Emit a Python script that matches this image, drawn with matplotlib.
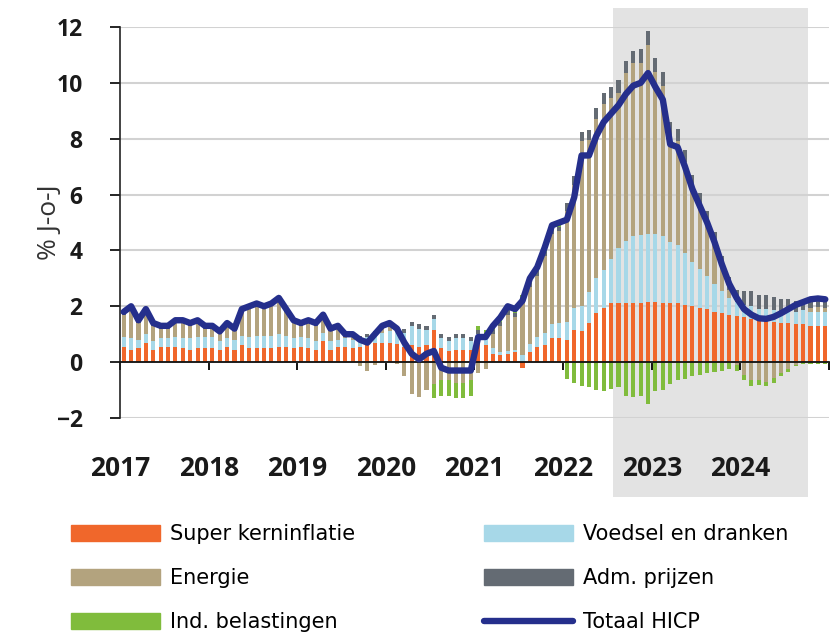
import numpy as np
import matplotlib
matplotlib.use("Agg")
import matplotlib.pyplot as plt
from matplotlib.patches import Patch
from matplotlib.lines import Line2D

# maandelijkse bijdragen (procentpunten), jan 2017 - dec 2024
super_kern = [0.55, 0.45, 0.5, 0.7, 0.45, 0.55, 0.55, 0.55, 0.5, 0.45, 0.5, 0.5,
              0.5, 0.45, 0.55, 0.45, 0.6, 0.5, 0.5, 0.5, 0.5, 0.55, 0.55, 0.5,
              0.55, 0.5, 0.45, 0.75, 0.45, 0.55, 0.55, 0.5, 0.55, 0.6, 0.7, 0.7,
              0.7, 0.65, 0.55, 0.6, 0.55, 0.6, 1.15, 0.5, 0.4, 0.45, 0.45, 0.45,
              0.75, 0.6, 0.3, 0.25, 0.3, 0.35, -0.2, 0.35, 0.55, 0.6, 0.85, 0.85,
              0.8, 1.15, 1.1, 1.4, 1.75, 1.95, 2.1, 2.1, 2.1, 2.1, 2.1, 2.15,
              2.15, 2.1, 2.1, 2.1, 2.05, 2.0, 1.95, 1.9, 1.8, 1.75, 1.7, 1.65,
              1.6, 1.55, 1.5, 1.5, 1.45, 1.4, 1.4, 1.35, 1.35, 1.3, 1.3, 1.3]
voedsel = [0.35, 0.4, 0.3, 0.3, 0.3, 0.3, 0.3, 0.35, 0.35, 0.4, 0.4, 0.4,
           0.4, 0.3, 0.3, 0.35, 0.35, 0.4, 0.45, 0.45, 0.45, 0.45, 0.4, 0.35,
           0.35, 0.35, 0.3, 0.3, 0.3, 0.25, 0.3, 0.3, 0.3, 0.3, 0.3, 0.35,
           0.4, 0.45, 0.5, 0.7, 0.65, 0.55, 0.4, 0.35, 0.35, 0.4, 0.4, 0.3,
           0.25, 0.25, 0.2, 0.1, 0.1, 0.1, 0.25, 0.3, 0.35, 0.45, 0.5, 0.55,
           0.65, 0.8, 0.9, 1.1, 1.25, 1.35, 1.6, 2.0, 2.25, 2.4, 2.45, 2.45,
           2.45, 2.4, 2.2, 2.1, 1.85, 1.6, 1.4, 1.2, 1.0, 0.8, 0.6, 0.5,
           0.45, 0.45, 0.4, 0.4, 0.4, 0.4, 0.45, 0.45, 0.5, 0.5, 0.5, 0.5]
energie = [0.8, 1.05, 0.6, 0.8, 0.55, 0.35, 0.35, 0.5, 0.55, 0.45, 0.5, 0.3,
           0.3, 0.25, 0.45, 0.3, 0.85, 1.0, 1.05, 0.95, 1.05, 1.2, 0.85, 0.55,
           0.4, 0.55, 0.55, 0.55, 0.35, 0.4, 0.05, 0.1, -0.15, -0.3, -0.1, 0.15,
           0.15, -0.05, -0.5, -1.15, -1.25, -1.0, -0.8, -0.65, -0.65, -0.75, -0.75, -0.65,
           -0.4, -0.25, 0.5, 0.95, 1.3, 1.15, 1.85, 2.05, 2.2, 2.75, 3.25, 3.3,
           3.95, 4.4, 5.9, 5.45, 5.7, 5.95, 5.75, 5.55, 6.0, 6.2, 6.15, 6.75,
           5.8, 5.4, 3.85, 3.7, 3.25, 2.65, 2.25, 1.9, 1.45, 0.85, 0.3, -0.1,
           -0.45, -0.65, -0.63, -0.7, -0.58, -0.4, -0.25, -0.1, 0.0, 0.15, 0.18, 0.15]
adm = [0.1] * 36 + [0.15] * 24 + \
      [0.3, 0.3, 0.35, 0.35, 0.4, 0.4, 0.4, 0.45, 0.45, 0.45, 0.5, 0.5,
       0.5, 0.5, 0.45, 0.45, 0.45, 0.45, 0.45, 0.4, 0.4, 0.4, 0.45, 0.45,
       0.5, 0.55, 0.5, 0.5, 0.5, 0.45, 0.4, 0.4, 0.35, 0.35, 0.35, 0.35]
ind_bel = [0.0] * 42 + [-0.5, -0.55, -0.55, -0.55, -0.55, -0.55] + [0.15] * 12 + \
          [-0.6, -0.75, -0.85, -0.9, -1.0, -1.05, -0.95, -0.9, -1.2, -1.25, -1.2, -1.5,
           -1.05, -1.0, -0.8, -0.65, -0.6, -0.5, -0.45, -0.4, -0.35, -0.3, -0.25, -0.2,
           -0.2, -0.2, -0.2, -0.15, -0.15, -0.1, -0.1, -0.05, -0.05, -0.05, -0.05, -0.05]
totaal = [1.8, 2.0, 1.5, 1.9, 1.4, 1.3, 1.3, 1.5, 1.5, 1.4, 1.5, 1.3,
          1.3, 1.1, 1.4, 1.2, 1.9, 2.0, 2.1, 2.0, 2.1, 2.3, 1.9, 1.5,
          1.4, 1.5, 1.4, 1.7, 1.2, 1.3, 1.0, 1.0, 0.8, 0.7, 1.0, 1.3,
          1.4, 1.2, 0.7, 0.3, 0.1, 0.3, 0.4, -0.2, -0.3, -0.3, -0.3, -0.3,
          0.9, 0.9, 1.3, 1.6, 2.0, 1.9, 2.2, 3.0, 3.4, 4.1, 4.9, 5.0,
          5.1, 5.9, 7.4, 7.4, 8.1, 8.6, 8.9, 9.2, 9.6, 9.9, 10.0, 10.35,
          9.85, 9.4, 7.8, 7.7, 7.0, 6.2, 5.6, 5.0, 4.3, 3.5, 2.8, 2.3,
          1.9, 1.7, 1.57, 1.55, 1.62, 1.75, 1.9, 2.05, 2.15, 2.25, 2.28, 2.25]
jaren = ['2017', '2018', '2019', '2020', '2021', '2022', '2023', '2024']

# projectieperiode (in maanden vanaf jan 2017)
proj_start, proj_end = 66.25, 92.65

reeksen = [('Super kerninflatie', super_kern, '#F0672B'),
           ('Voedsel en dranken', voedsel, '#A7D8E8'),
           ('Energie', energie, '#B3A37E'),
           ('Adm. prijzen', adm, '#646B73'),
           ('Ind. belastingen', ind_bel, '#80BC3C')]
lijn_kleur = '#252F8C'

fig = plt.figure(figsize=(8.37, 6.32), dpi=100)
ax = fig.add_axes([0.1434, 0.3386, 0.847, 0.6187])

x = np.arange(len(totaal))
pos = np.zeros(len(x))
neg = np.zeros(len(x))
for naam, vals, kleur in reeksen:
    v = np.array(vals)
    onder = np.where(v >= 0, pos, neg)
    ax.bar(x, v, width=0.55, bottom=onder, color=kleur, linewidth=0, zorder=2)
    pos = pos + np.clip(v, 0, None)
    neg = neg + np.clip(v, None, 0)

ax.plot(x, totaal, color=lijn_kleur, lw=4.6, solid_capstyle='round',
        solid_joinstyle='round', zorder=5)

sh = ax.axvspan(proj_start, proj_end, ymin=-0.202, ymax=1.049,
                color='#E3E3E3', lw=0, zorder=0)
sh.set_clip_on(False)

ax.set_xlim(-0.5, 95.5)
ax.set_ylim(-2, 12)
ax.set_yticks(range(-2, 13, 2))
ax.yaxis.grid(True, color='#D2D2D2', lw=1.5)
ax.set_axisbelow(True)

ax.set_xticks(np.arange(-0.5, 96, 12))
ax.set_xticklabels(jaren + [''])
ax.spines['bottom'].set_position(('data', 0))
ax.spines['top'].set_visible(False)
ax.spines['right'].set_visible(False)
ax.spines['left'].set_color('#222222')
ax.spines['bottom'].set_color('#111111')
ax.spines['left'].set_linewidth(1.2)
ax.spines['bottom'].set_linewidth(1.3)
ax.spines['bottom'].set_zorder(3)

ax.tick_params(axis='x', direction='out', length=6, width=1.3, pad=61,
               labelsize=19, labelcolor='#1a1a1a')
ax.tick_params(axis='y', direction='out', length=7, width=1.2, pad=20,
               labelsize=16.5, labelcolor='#1a1a1a')
for t in ax.get_xticklabels() + ax.get_yticklabels():
    t.set_fontfamily(['Open Sans', 'DejaVu Sans'])
    t.set_fontweight('bold')

ax.set_ylabel('% J-o-J', fontsize=19, color='#333333',
              fontfamily=['Open Sans', 'DejaVu Sans'], labelpad=-4)

handles = [Patch(color=reeksen[0][2]), Patch(color=reeksen[2][2]), Patch(color=reeksen[4][2]),
           Patch(color=reeksen[1][2]), Patch(color=reeksen[3][2]),
           Line2D([], [], color=lijn_kleur, lw=4.6, solid_capstyle='round')]
labels = [reeksen[0][0], reeksen[2][0], reeksen[4][0],
          reeksen[1][0], reeksen[3][0], 'Totaal HICP']
fig.legend(handles, labels, ncol=2, loc='upper left', bbox_to_anchor=(0.062, 0.2),
           frameon=False, handlelength=4.3, handleheight=0.75, handletextpad=0.45,
           columnspacing=6.2, labelspacing=1.15,
           prop={'family': ['DejaVu Sans'], 'size': 15})

fig.savefig('out.png', dpi=100)
